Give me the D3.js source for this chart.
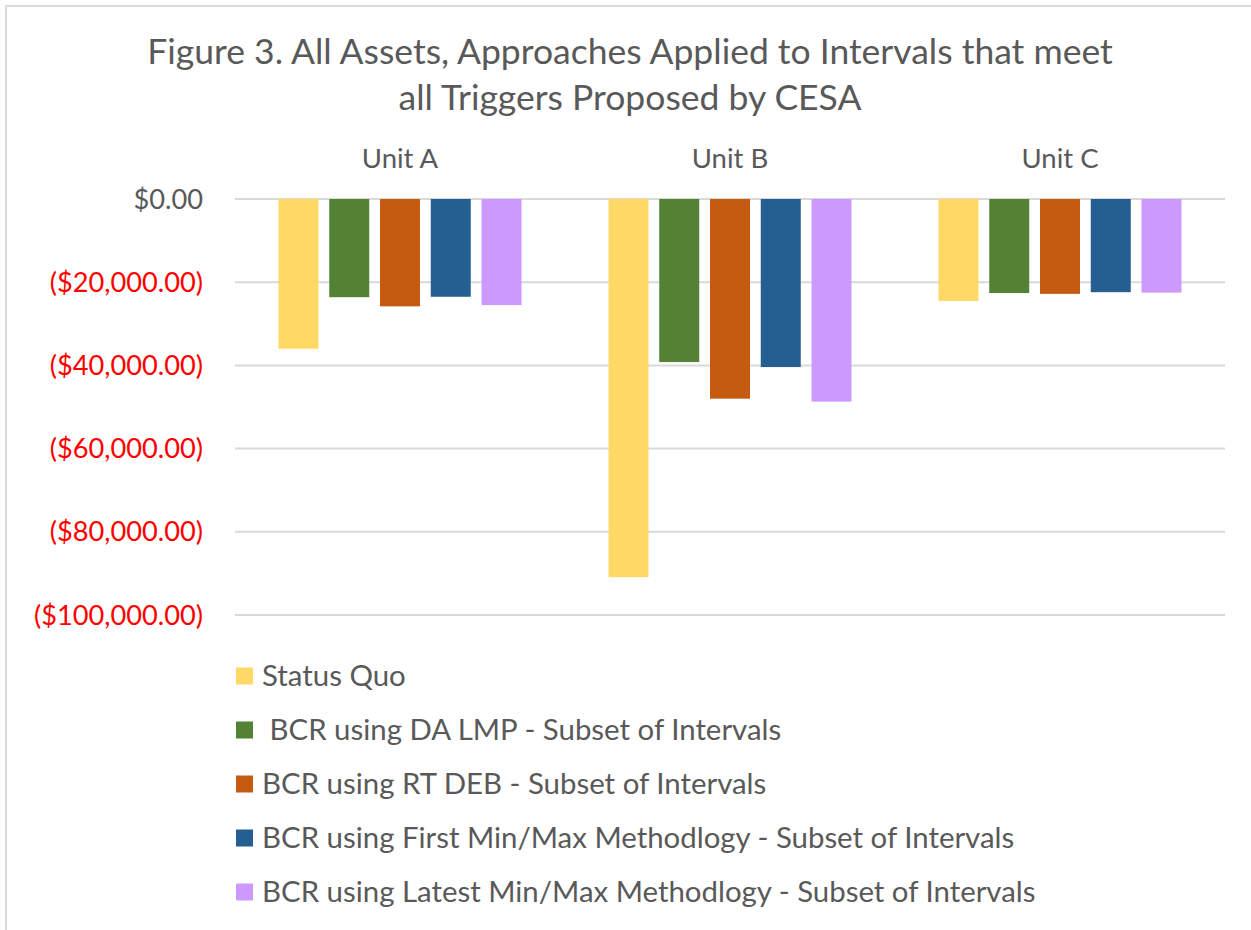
<!DOCTYPE html>
<html>
<head>
<meta charset="utf-8">
<script src="https://cdn.jsdelivr.net/npm/d3@7"></script>
<style>
  body { margin: 0; background: #fff; }
  text { font-family: Lato, "Noto Sans", sans-serif; }
</style>
</head>
<body>
<div id="chart"></div>
<script>
// data
var units = ["Unit A", "Unit B", "Unit C"];
var seriesNames = [
  "Status Quo",
  " BCR using DA LMP - Subset of Intervals",
  "BCR using RT DEB - Subset of Intervals",
  "BCR using First Min/Max Methodlogy - Subset of Intervals",
  "BCR using Latest Min/Max Methodlogy - Subset of Intervals"
];
var statusQuo    = [-36000, -90900, -24500];
var daLmp        = [-23600, -39200, -22600];
var rtDeb        = [-25800, -48000, -22800];
var firstMinMax  = [-23500, -40400, -22400];
var latestMinMax = [-25500, -48700, -22500];
var yTicks = [0, -20000, -40000, -60000, -80000, -100000];
var colors = ["#FFD966", "#548235", "#C55A11", "#255E91", "#CC99FF"];

var seriesValues = [statusQuo, daLmp, rtDeb, firstMinMax, latestMinMax];

var width = 1251, height = 930;
var svg = d3.select("#chart").append("svg")
  .attr("width", width)
  .attr("height", height);

// chart border (only top/left visible in frame)
svg.append("rect")
  .attr("x", 6).attr("y", 6)
  .attr("width", width + 10).attr("height", height + 10)
  .attr("fill", "none")
  .attr("stroke", "#D9D9D9")
  .attr("stroke-width", 2);

var x0 = d3.scaleBand().domain(units).range([235, 1225]);
var x1 = d3.scaleBand().domain(d3.range(seriesNames.length))
  .range([0, x0.bandwidth()])
  .paddingInner(0.212)
  .paddingOuter(0.857);
var y = d3.scaleLinear().domain([-100000, 0]).range([615, 199]);

var money = d3.format("$,.2f");
function fmt(v) { return v < 0 ? "(" + money(-v) + ")" : money(v); }

// gridlines
svg.append("g")
  .selectAll("line")
  .data(yTicks)
  .enter()
  .append("line")
  .attr("x1", 235).attr("x2", 1225)
  .attr("y1", function(d) { return y(d); })
  .attr("y2", function(d) { return y(d); })
  .attr("stroke", "#D9D9D9")
  .attr("stroke-width", 2);

// y axis labels
svg.append("g")
  .selectAll("text")
  .data(yTicks)
  .enter()
  .append("text")
  .attr("x", 203)
  .attr("y", function(d) { return y(d); })
  .attr("dy", "0.35em")
  .attr("text-anchor", "end")
  .attr("font-size", 27.2)
  .attr("fill", function(d) { return d < 0 ? "#FF0000" : "#595959"; })
  .text(fmt);

// bars
var groups = svg.append("g")
  .selectAll("g")
  .data(units)
  .enter()
  .append("g")
  .attr("transform", function(d) { return "translate(" + x0(d) + ",0)"; });

groups.selectAll("rect")
  .data(function(u, ui) {
    return seriesValues.map(function(vals, si) { return { s: si, v: vals[ui] }; });
  })
  .enter()
  .append("rect")
  .attr("x", function(d) { return x1(d.s); })
  .attr("width", x1.bandwidth())
  .attr("y", function(d) { return y(Math.max(0, d.v)); })
  .attr("height", function(d) { return Math.abs(y(d.v) - y(0)); })
  .attr("fill", function(d) { return colors[d.s]; });

// category labels on top
svg.append("g")
  .selectAll("text")
  .data(units)
  .enter()
  .append("text")
  .attr("x", function(d) { return x0(d) + x0.bandwidth() / 2; })
  .attr("y", 168)
  .attr("text-anchor", "middle")
  .attr("font-size", 27.5)
  .attr("fill", "#595959")
  .text(function(d) { return d; });

// title
var title = svg.append("text")
  .attr("text-anchor", "middle")
  .attr("font-size", 35.5)
  .attr("fill", "#595959");
title.append("tspan").attr("x", 630).attr("y", 64)
  .text("Figure 3. All Assets, Approaches Applied to Intervals that meet");
title.append("tspan").attr("x", 630).attr("y", 110)
  .text("all Triggers Proposed by CESA");

// legend
var legend = svg.append("g")
  .selectAll("g")
  .data(seriesNames)
  .enter()
  .append("g")
  .attr("transform", function(d, i) { return "translate(236," + (676 + i * 54) + ")"; });

legend.append("rect")
  .attr("x", 0).attr("y", -8.5)
  .attr("width", 17).attr("height", 17)
  .attr("fill", function(d, i) { return colors[i]; });

legend.append("text")
  .attr("x", 26)
  .attr("dy", "0.35em")
  .attr("font-size", 29.4)
  .attr("fill", "#595959")
  .style("white-space", "pre")
  .text(function(d) { return d; });
</script>
</body>
</html>
